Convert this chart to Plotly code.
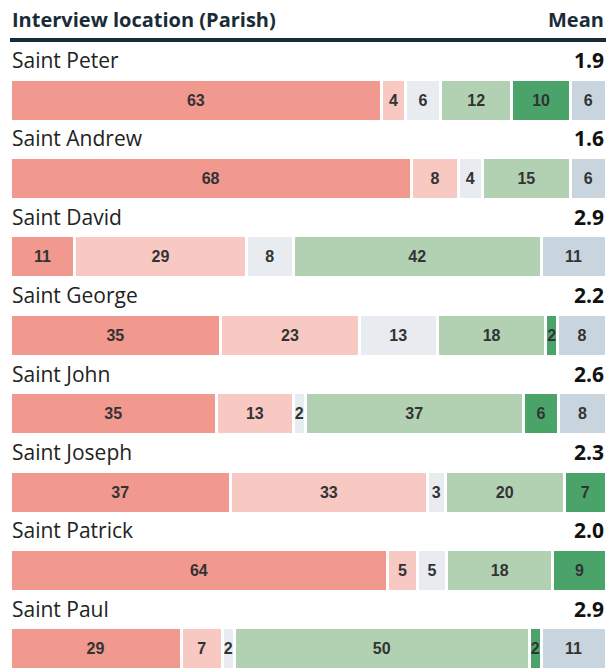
import plotly.graph_objects as go

parishes = ["Saint Peter", "Saint Andrew", "Saint David", "Saint George",
            "Saint John", "Saint Joseph", "Saint Patrick", "Saint Paul"]
means = ["1.9", "1.6", "2.9", "2.2", "2.6", "2.3", "2.0", "2.9"]

strongly_neg = [63, 68, 11, 35, 35, 37, 64, 29]
neg = [4, 8, 29, 23, 13, 33, 5, 7]
neutral = [6, 4, 8, 13, 2, 3, 5, 2]
pos = [12, 15, 42, 18, 37, 20, 18, 50]
strongly_pos = [10, 0, 0, 2, 6, 7, 9, 2]
dont_know = [6, 6, 11, 8, 8, 0, 0, 11]

series = [strongly_neg, neg, neutral, pos, strongly_pos, dont_know]
colors = ["#f1998f", "#f8c8c2", "#e8ebf0", "#b2d1b3", "#4aa46a", "#c9d5de"]

W, H = 613, 670
L, R = 10, 7
first_bar, period = 100, 78.4
bar_h = 42

totals = [sum(s[i] for s in series) for i in range(len(parishes))]
ys = [first_bar + i * period for i in range(len(parishes))]

fig = go.Figure()
for vals, col in zip(series, colors):
    xs = [v / t * 100 for v, t in zip(vals, totals)]
    fig.add_trace(go.Bar(
        orientation="h", x=xs, y=ys, width=bar_h,
        marker=dict(color=col, line=dict(color="white", width=3)),
        text=[str(v) if v > 0 else "" for v in vals],
        textposition="inside", insidetextanchor="middle",
        textfont=dict(family="Liberation Sans, Arial", size=16, color="#333333", weight="bold"),
        hoverinfo="skip", showlegend=False,
    ))

ann = []
ann.append(dict(x=0, y=19, xref="paper", yref="y", text="<b>Interview location (Parish)</b>",
                xanchor="left", yanchor="middle", showarrow=False,
                font=dict(family="Open Sans", size=20, color="#1a2b38")))
ann.append(dict(x=1, y=19, xref="paper", yref="y", text="<b>Mean</b>",
                xanchor="right", yanchor="middle", showarrow=False,
                font=dict(family="Open Sans", size=20, color="#1a2b38")))
for p, m, y in zip(parishes, means, ys):
    ann.append(dict(x=0, y=y - 40, xref="paper", yref="y", text=p,
                    xanchor="left", yanchor="middle", showarrow=False,
                    font=dict(family="Open Sans", size=21, color="#222222")))
    ann.append(dict(x=1, y=y - 40, xref="paper", yref="y", text="<b>" + m + "</b>",
                    xanchor="right", yanchor="middle", showarrow=False,
                    font=dict(family="Open Sans", size=21, color="#111111")))

fig.update_layout(
    width=W, height=H, barmode="stack",
    margin=dict(l=L, r=R, t=0, b=0),
    plot_bgcolor="white", paper_bgcolor="white",
    xaxis=dict(range=[0, 100], visible=False, fixedrange=True),
    yaxis=dict(range=[H, 0], visible=False, fixedrange=True),
    annotations=ann,
    shapes=[dict(type="line", xref="paper", yref="y", x0=0, x1=1, y0=40, y1=40,
                 line=dict(color="#1a2b38", width=4))],
    uniformtext=dict(minsize=16, mode="show"),
)

fig.write_html("out.html")
